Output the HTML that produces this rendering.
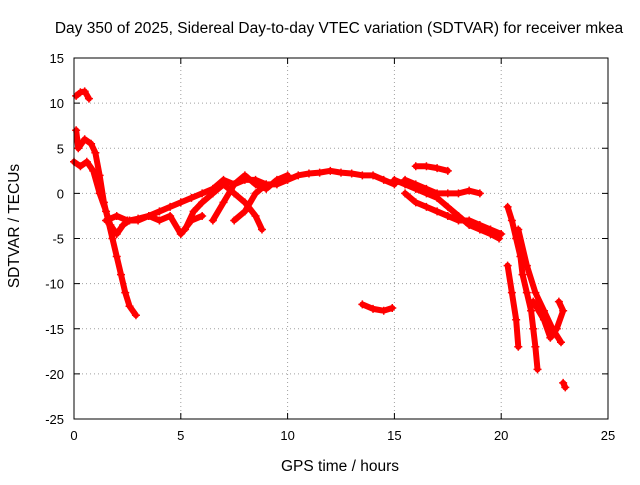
<!DOCTYPE html>
<html><head><meta charset="utf-8"><style>
body{margin:0;background:#fff;}
svg text{font-family:"Liberation Sans",sans-serif;font-size:13px;fill:#000;}
svg text.big{font-size:15.5px;}
</style></head><body>
<svg id="chart" width="640" height="480" xmlns="http://www.w3.org/2000/svg">
<text class="big" x="339" y="33" text-anchor="middle">Day 350 of 2025, Sidereal Day-to-day VTEC variation (SDTVAR) for receiver mkea</text>
<text class="big" x="340" y="471" text-anchor="middle">GPS time / hours</text>
<text class="big" transform="translate(19,226) rotate(-90)" text-anchor="middle">SDTVAR / TECUs</text>
<g id="grid"></g>
<g id="ticks"></g>
<g id="series"></g>
<rect x="74" y="58" width="534" height="361" fill="none" stroke="#000" stroke-width="1"/>
</svg>
<script>
const xTicks=[0,5,10,15,20,25];
const yTicks=[-25,-20,-15,-10,-5,0,5,10,15];
const trackA=[[0.1,10.8],[0.3,11.2],[0.5,11.3],[0.7,10.5]];
const trackB=[[0.1,7],[0.2,5],[0.5,6],[0.8,5.5],[1.0,4.5],[1.2,2],[1.4,-1],[1.6,-3],[1.8,-5],[2.0,-7],[2.2,-9],[2.4,-11],[2.6,-12.5],[2.9,-13.5]];
const trackC=[[0,3.5],[0.3,3],[0.6,3.5],[0.9,2.5],[1.2,0],[1.5,-2],[1.7,-3.5],[2.0,-4.5],[2.3,-3.5],[2.6,-3],[3.0,-2.8],[3.5,-2.5],[4,-2],[4.5,-1.5],[5,-1],[5.5,-0.5],[6,0],[6.5,0.5],[7,1.5],[7.5,1],[8,1.5],[8.5,1.5],[9,1],[9.5,1],[10,1.5],[10.5,2],[11,2.2],[11.5,2.3],[12,2.5],[12.5,2.3],[13,2.2],[13.5,2],[14,2],[14.5,1.5],[15,1]];
const trackD=[[1.5,-3],[2,-2.5],[2.5,-3],[3,-3],[3.5,-2.5],[4,-3],[4.5,-2.5],[5,-4.5],[5.5,-3],[6,-2.5]];
const trackE=[[5.2,-4],[5.6,-2],[6,-1],[6.5,0],[7,1],[7.5,0],[8,-1],[8.5,-2.5],[8.8,-4]];
const trackF=[[6.5,-3],[7,-1],[7.5,1],[8,2],[8.5,1],[9,0.5],[9.5,1.5],[10,2]];
const trackG=[[7.5,-3],[8,-2],[8.5,0],[9,1]];
const trackH=[[13.5,-12.3],[14,-12.8],[14.5,-13],[14.9,-12.7]];
const trackI=[[15,1.5],[15.5,1],[16,0.5],[16.5,0],[17,-0.5],[17.5,-1.5],[18,-2.5],[18.5,-3.5],[19,-4],[19.5,-4.5],[19.9,-5]];
const trackJ=[[16,3],[16.5,3],[17,2.8],[17.5,2.5]];
const trackK=[[15.5,1.5],[16,1],[16.5,0.5],[17,0],[17.5,0],[18,0],[18.5,0.3],[19,0]];
const trackL=[[15.5,0],[16,-1],[16.5,-1.5],[17,-2],[17.5,-2.5],[18,-3],[18.5,-3],[19,-3.5],[19.5,-4],[20,-4.5]];
const trackM=[[20.3,-1.5],[20.5,-3],[20.7,-5],[20.9,-7],[21.0,-9],[21.2,-11],[21.4,-13],[21.5,-15],[21.6,-17],[21.7,-19.5]];
const trackN=[[20.3,-8],[20.5,-11],[20.7,-14],[20.8,-17]];
const trackO=[[20.8,-4],[21.2,-8],[21.6,-11],[22,-13],[22.4,-15],[22.8,-16.5]];
const trackP=[[21.5,-12],[22,-14],[22.3,-16],[22.6,-15],[22.9,-13],[22.7,-12]];
const trackQ=[[22.9,-21],[23,-21.5]];
const tracks=[trackA,trackB,trackC,trackD,trackE,trackF,trackG,trackH,trackI,trackJ,trackK,trackL,trackM,trackN,trackO,trackP,trackQ];
const NS="http://www.w3.org/2000/svg";
const X0=74,X1=608,Y0=419,Y1=58,xmin=0,xmax=25,ymin=-25,ymax=15;
const sx=v=>X0+(v-xmin)/(xmax-xmin)*(X1-X0);
const sy=v=>Y0-(v-ymin)/(ymax-ymin)*(Y0-Y1);
function mk(t,a,p){const e=document.createElementNS(NS,t);for(const k in a)e.setAttribute(k,a[k]);p.appendChild(e);return e;}
const grid=document.getElementById('grid'),ticks=document.getElementById('ticks'),ser=document.getElementById('series');
xTicks.forEach(v=>{const x=sx(v);
 if(v>xmin&&v<xmax){const g=mk('line',{x1:x,x2:x,y1:Y1,y2:Y0,stroke:'#a0a0a0','stroke-dasharray':'1,3'},grid);}
 mk('line',{x1:x,x2:x,y1:Y0,y2:Y0-6,stroke:'#000'},ticks);mk('line',{x1:x,x2:x,y1:Y1,y2:Y1+6,stroke:'#000'},ticks);
 const t=mk('text',{x:x,y:Y0+21,'text-anchor':'middle'},ticks);t.textContent=v;
 });
yTicks.forEach(v=>{const y=sy(v);
 if(v>ymin&&v<ymax){const g=mk('line',{x1:X0,x2:X1,y1:y,y2:y,stroke:'#a0a0a0','stroke-dasharray':'1,3'},grid);}
 mk('line',{x1:X0,x2:X0+6,y1:y,y2:y,stroke:'#000'},ticks);mk('line',{x1:X1,x2:X1-6,y1:y,y2:y,stroke:'#000'},ticks);
 const t=mk('text',{x:X0-10,y:y+5,'text-anchor':'end'},ticks);t.textContent=v;
 });
tracks.forEach(tr=>{
 const pl=mk('polyline',{points:tr.map(p=>sx(p[0])+','+sy(p[1])).join(' '),fill:'none',stroke:'#f00','stroke-width':6,'stroke-linejoin':'round','stroke-linecap':'round'},ser);
 
 
 tr.forEach(p=>{const x=sx(p[0]),y=sy(p[1]);
  const m=mk('path',{d:`M${x-4},${y}H${x+4}M${x},${y-4}V${y+4}`,stroke:'#f00','stroke-width':1.5},ser);
  
  });
});
</script>
</body></html>
